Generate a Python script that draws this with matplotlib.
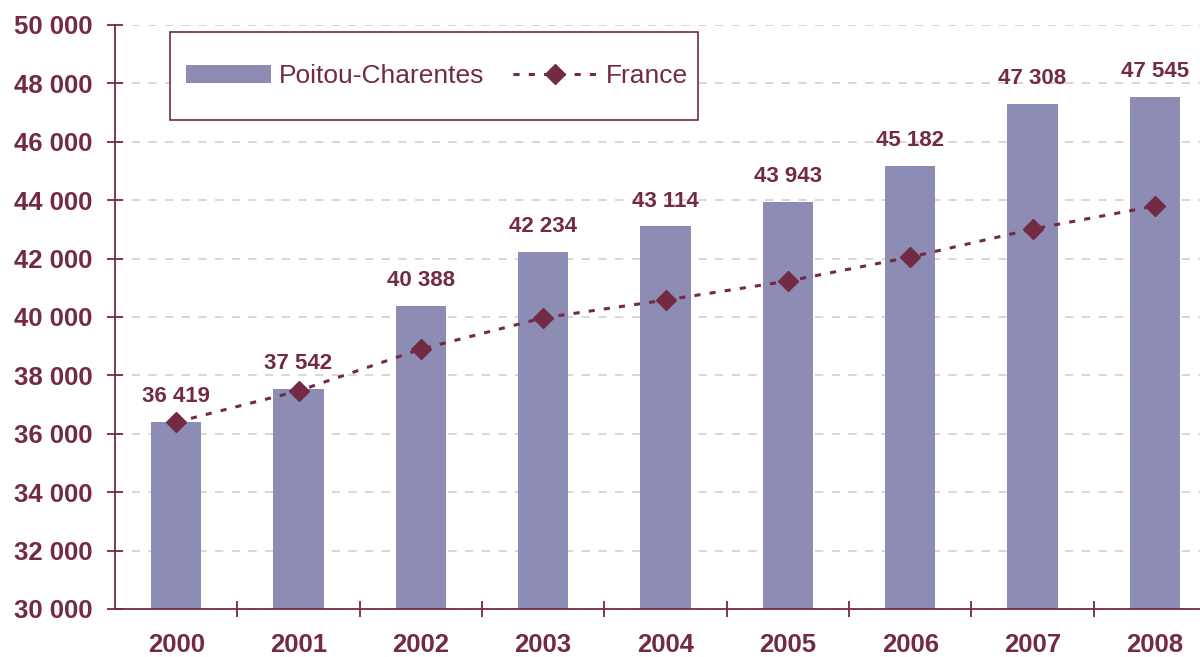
import matplotlib.pyplot as plt
from matplotlib.patches import Rectangle
from matplotlib.ticker import FixedLocator, FuncFormatter

years = ["2000", "2001", "2002", "2003", "2004", "2005", "2006", "2007", "2008"]
poitou = [36419, 37542, 40388, 42234, 43114, 43943, 45182, 47308, 47545]
france = [36400, 37470, 38900, 39970, 40580, 41230, 42050, 43010, 43800]

MAROON = "#722B43"
BAR = "#8C8CB4"
GRID = "#D8CDD2"

plt.rcParams["font.family"] = ["Liberation Sans", "DejaVu Sans"]


def fmt(v, pos=None):
    return f"{int(v):,}".replace(",", " ")


fig = plt.figure(figsize=(12, 6.57), dpi=100)
ax = fig.add_axes([115 / 1200, 48 / 657, 1101 / 1200, 584 / 657])

x = list(range(len(years)))
bars = ax.bar(x, poitou, width=0.41, color=BAR, label="Poitou-Charentes", zorder=2)
line, = ax.plot(x, france, color=MAROON, lw=2.2, dashes=(2, 3), marker="D",
                markersize=10, label="France", zorder=3)

for xi, v in zip(x, poitou):
    ax.annotate(fmt(v), (xi, v), xytext=(0, 14), textcoords="offset points",
                ha="center", va="baseline", fontsize=16, fontweight="bold",
                color=MAROON)

ax.set_xlim(-0.5, 8.5)
ax.set_ylim(30000, 50000)
ax.set_yticks(range(30000, 50001, 2000))
ax.yaxis.set_major_formatter(FuncFormatter(fmt))
ax.set_xticks(x)
ax.set_xticklabels(years)
ax.xaxis.set_minor_locator(FixedLocator([i + 0.5 for i in range(8)]))

ax.grid(True, axis="y", color=GRID, linestyle=(0, (5, 5)), lw=1.2, zorder=0)
for side in ["top", "right"]:
    ax.spines[side].set_visible(False)
for side in ["left", "bottom"]:
    ax.spines[side].set_color(MAROON)
    ax.spines[side].set_linewidth(1.3)

ax.tick_params(axis="y", direction="inout", length=12, width=1.3, color=MAROON,
               labelcolor=MAROON, labelsize=18.5, pad=10)
ax.tick_params(axis="x", which="major", length=0, labelcolor=MAROON,
               labelsize=18.5, pad=17)
ax.tick_params(axis="x", which="minor", direction="inout", length=12,
               width=1.3, color=MAROON)
for lab in ax.get_xticklabels() + ax.get_yticklabels():
    lab.set_fontweight("bold")

# legend frame drawn separately (box is taller than the legend pad gives)
fig.patches.append(Rectangle((170 / 1200, 537 / 657), 528 / 1200, 88 / 657,
                             transform=fig.transFigure, facecolor="white",
                             edgecolor=MAROON, lw=1.2, zorder=4))
leg = fig.legend([bars, line], ["Poitou-Charentes", "France"], loc="center",
                 bbox_to_anchor=(437 / 1200, 581 / 657), ncol=2, frameon=False,
                 fontsize=19, handlelength=3.2, handletextpad=0.3,
                 columnspacing=1.1, labelcolor=MAROON)
leg.set_zorder(5)

fig.savefig("out.png", dpi=100)
